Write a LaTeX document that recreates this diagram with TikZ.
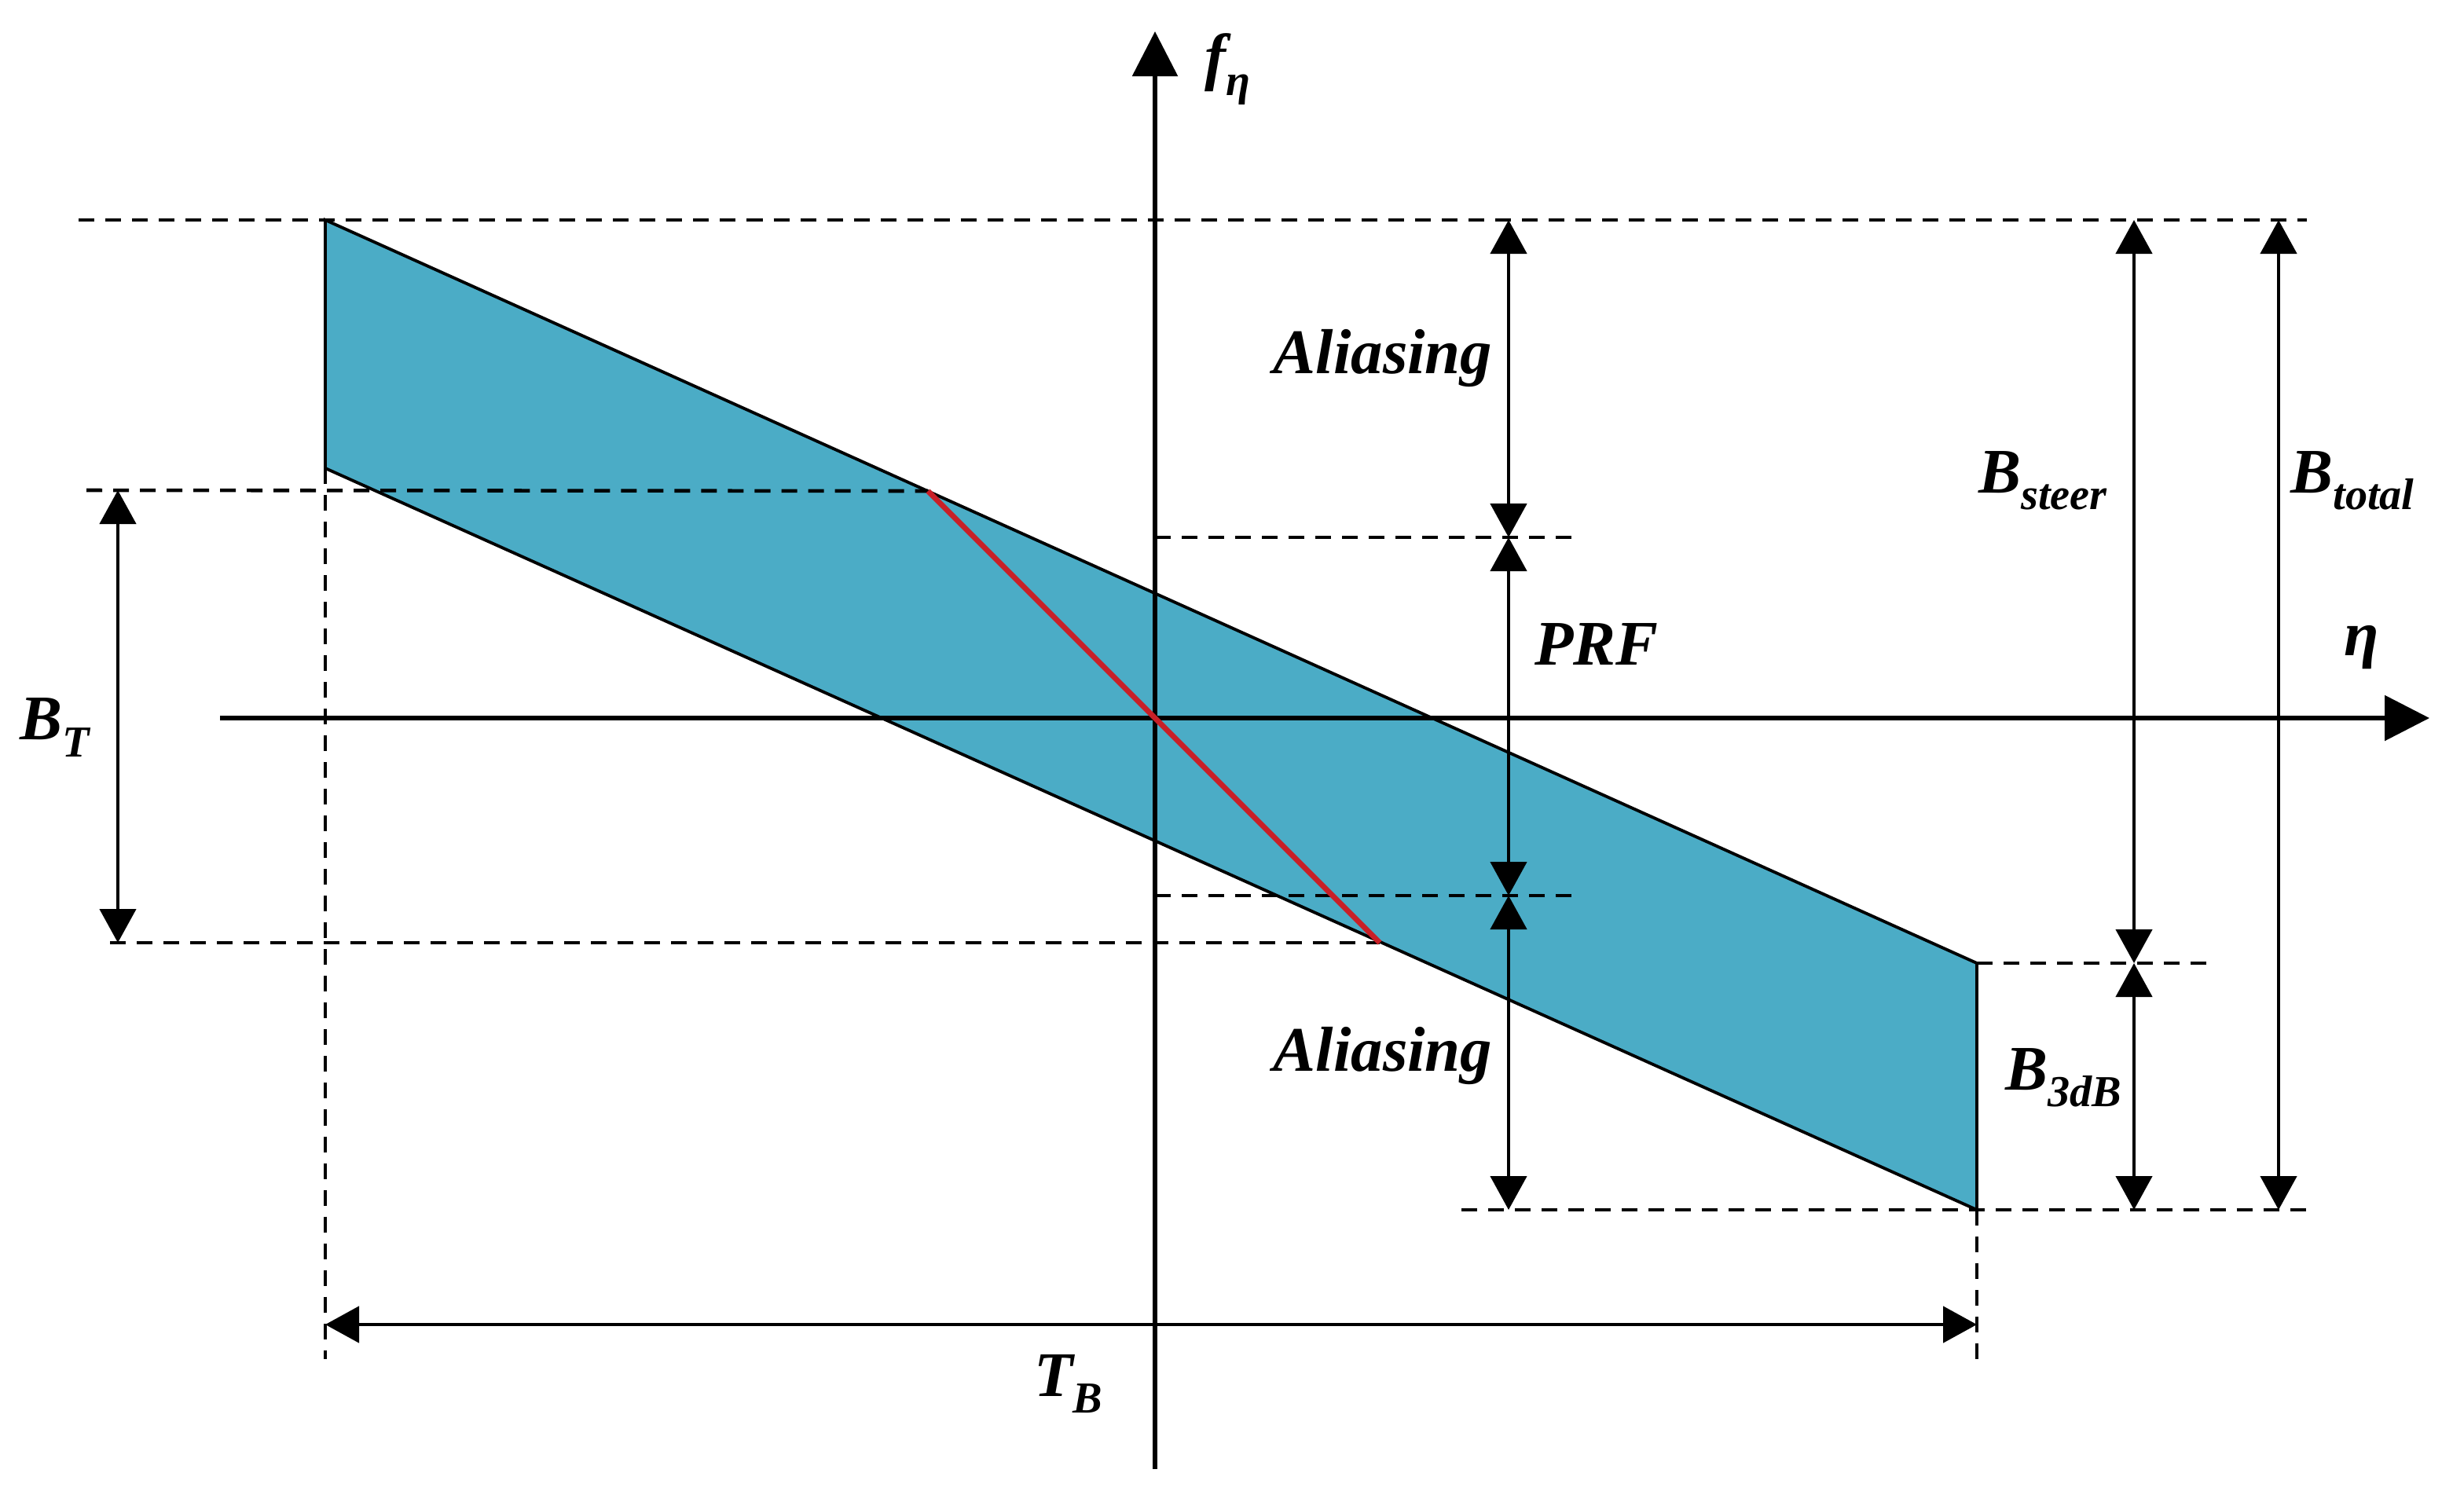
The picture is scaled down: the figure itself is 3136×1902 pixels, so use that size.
\documentclass[tikz,border=0pt]{standalone}
\usepackage{fontspec}
\setmainfont{Liberation Serif}
\usetikzlibrary{arrows.meta}
\definecolor{band}{HTML}{4BACC6}
\definecolor{redl}{RGB}{200,32,40}
\newcommand{\lsub}[1]{\raisebox{-6pt}{\fontsize{16}{16}\selectfont #1}}
\begin{document}
\begin{tikzpicture}[x=0.01cm,y=-0.01cm,
 lbl/.style={font=\fontsize{23}{27}\selectfont\bfseries\itshape, inner sep=0pt},
 axisline/.style={line width=1.6pt,-{Triangle[width=0.57cm,length=0.57cm]}},
 dim/.style={line width=1.3pt,{Triangle[width=0.46cm,length=0.43cm]}-{Triangle[width=0.46cm,length=0.43cm]}},
 guide/.style={line width=1.3pt,dash pattern=on 0.2cm off 0.14cm},
 edgeline/.style={line width=1.1pt}]
\useasboundingbox (0,0) rectangle (3136,1902);
% parallelogram corners
\coordinate (P1) at (414,280);
\coordinate (P2) at (2516,1226);
\coordinate (P3) at (2516,1540);
\coordinate (P4) at (414,596);
\coordinate (O) at (1470,914);
\coordinate (R1) at (1181,625);
\coordinate (R2) at (1756,1200);
% band
\filldraw[fill=band,draw=black,edgeline] (P1) -- (P2) -- (P3) -- (P4) -- cycle;
% axes
\coordinate (VA0) at (1470,1870);
\coordinate (VA1) at (1470,40);
\coordinate (HA0) at (280,914);
\coordinate (HA1) at (3092,914);
\draw[axisline] (VA0) -- (VA1);
\draw[axisline] (HA0) -- (HA1);
% guide lines
\coordinate (G1a) at (100,280);   \coordinate (G1b) at (2936,280);
\coordinate (G2a) at (110,624);
\coordinate (G3a) at (140,1200);
\coordinate (G4a) at (1470,684);  \coordinate (G4b) at (2010,684);
\coordinate (G5a) at (1470,1140); \coordinate (G5b) at (2010,1140);
\coordinate (G6b) at (2820,1226);
\coordinate (G7a) at (1860,1540); \coordinate (G7b) at (2936,1540);
\coordinate (G8b) at (414,1730);
\coordinate (G9b) at (2516,1740);
\draw[guide] (G1a) -- (G1b);
\draw[guide] (G2a) -- (R1);
\draw[guide] (G3a) -- (R2);
\draw[guide] (G4a) -- (G4b);
\draw[guide] (G5a) -- (G5b);
\draw[guide] (P2) -- (G6b);
\draw[guide] (G7a) -- (G7b);
\draw[guide] (P4) -- (G8b);
\draw[guide] (P3) -- (G9b);
% red line
\draw[redl,line width=2pt] (R1) -- (R2);
% dimension arrows
\coordinate (A1) at (1920,280);
\coordinate (A2) at (1920,684);
\coordinate (A3) at (1920,1140);
\coordinate (A4) at (1920,1540);
\draw[dim] (A1) -- (A2);
\draw[dim] (A2) -- (A3);
\draw[dim] (A3) -- (A4);
\coordinate (S1) at (2716,280);
\coordinate (S2) at (2716,1226);
\coordinate (S3) at (2716,1540);
\draw[dim] (S1) -- (S2);
\draw[dim] (S2) -- (S3);
\coordinate (T1) at (2900,280);
\coordinate (T2) at (2900,1540);
\draw[dim] (T1) -- (T2);
\coordinate (BT1) at (150,624);
\coordinate (BT2) at (150,1200);
\draw[dim] (BT1) -- (BT2);
\coordinate (TB1) at (414,1686);
\coordinate (TB2) at (2516,1686);
\draw[dim] (TB1) -- (TB2);
% labels
\node[lbl] (fe) at (1562,88) {f\lsub{η}};
\node[lbl] (eta) at (3006,824) {η};
\node[lbl] (al1) at (1760,456) {Aliasing};
\node[lbl] (prf) at (2032,820) {PRF};
\node[lbl] (al2) at (1760,1344) {Aliasing};
\node[lbl] (bst) at (2600,612) {B\lsub{steer}};
\node[lbl] (bto) at (2994,612) {B\lsub{total}};
\node[lbl] (bt) at (70,926) {B\lsub{T}};
\node[lbl] (b3) at (2626,1372) {B\lsub{3dB}};
\node[lbl] (tb) at (1360,1762) {T\lsub{B}};
\end{tikzpicture}
\end{document}
